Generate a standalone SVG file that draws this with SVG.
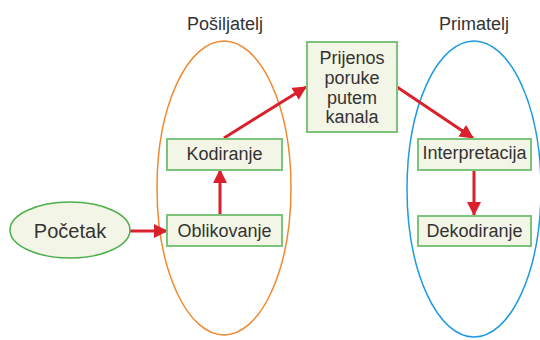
<svg xmlns="http://www.w3.org/2000/svg" width="540" height="340" viewBox="0 0 540 340">
<style>
text{font-family:"Liberation Sans",Arial,sans-serif;font-size:18px;fill:#333;text-anchor:middle}
.box{fill:#f3f5e6;stroke:#7cc47c;stroke-width:2}
.arr{stroke:#d9202c;stroke-width:3;fill:none;marker-end:url(#ah)}
.grp{fill:none;stroke-width:1.5}
</style>
<defs>
<marker id="ah" markerUnits="userSpaceOnUse" markerWidth="14" markerHeight="14" viewBox="0 0 14 14" refX="13" refY="7" orient="auto">
<path d="M0,0 L14,7 L0,14 z" fill="#d9202c"/>
</marker>
</defs>
<g id="sender">
<ellipse class="grp" cx="224" cy="188" rx="67" ry="147" stroke="#f08a30"/>
<text x="225" y="30">Pošiljatelj</text>
</g>
<g id="receiver">
<ellipse class="grp" cx="474" cy="189" rx="67" ry="148" stroke="#1e9be0"/>
<text x="474" y="30">Primatelj</text>
</g>
<g id="connectors">
<line class="arr" x1="130" y1="231" x2="167" y2="231"/>
<line class="arr" x1="220" y1="215" x2="220" y2="170"/>
<line class="arr" x1="224" y1="138" x2="306" y2="87"/>
<line class="arr" x1="397" y1="87" x2="473" y2="138"/>
<line class="arr" x1="474" y1="170" x2="474" y2="215"/>
</g>
<g id="pocetak">
<ellipse cx="70" cy="230" rx="60" ry="28" fill="#f3f5e6" stroke="#4cb04c" stroke-width="1.5"/>
<text x="70" y="238" style="font-size:20px">Početak</text>
</g>
<g id="oblikovanje">
<rect class="box" x="167" y="215" width="115" height="31"/>
<text x="224.5" y="237">Oblikovanje</text>
</g>
<g id="kodiranje">
<rect class="box" x="167" y="139" width="115" height="31"/>
<text x="224.5" y="160">Kodiranje</text>
</g>
<g id="prijenos">
<rect class="box" x="307" y="42" width="90" height="90"/>
<text x="352" y="64">Prijenos</text>
<text x="352" y="84">poruke</text>
<text x="352" y="104">putem</text>
<text x="352" y="123">kanala</text>
</g>
<g id="interpretacija">
<rect class="box" x="418" y="139" width="113" height="31"/>
<text x="474.5" y="159">Interpretacija</text>
</g>
<g id="dekodiranje">
<rect class="box" x="418" y="216" width="113" height="30"/>
<text x="474.5" y="237">Dekodiranje</text>
</g>
</svg>
